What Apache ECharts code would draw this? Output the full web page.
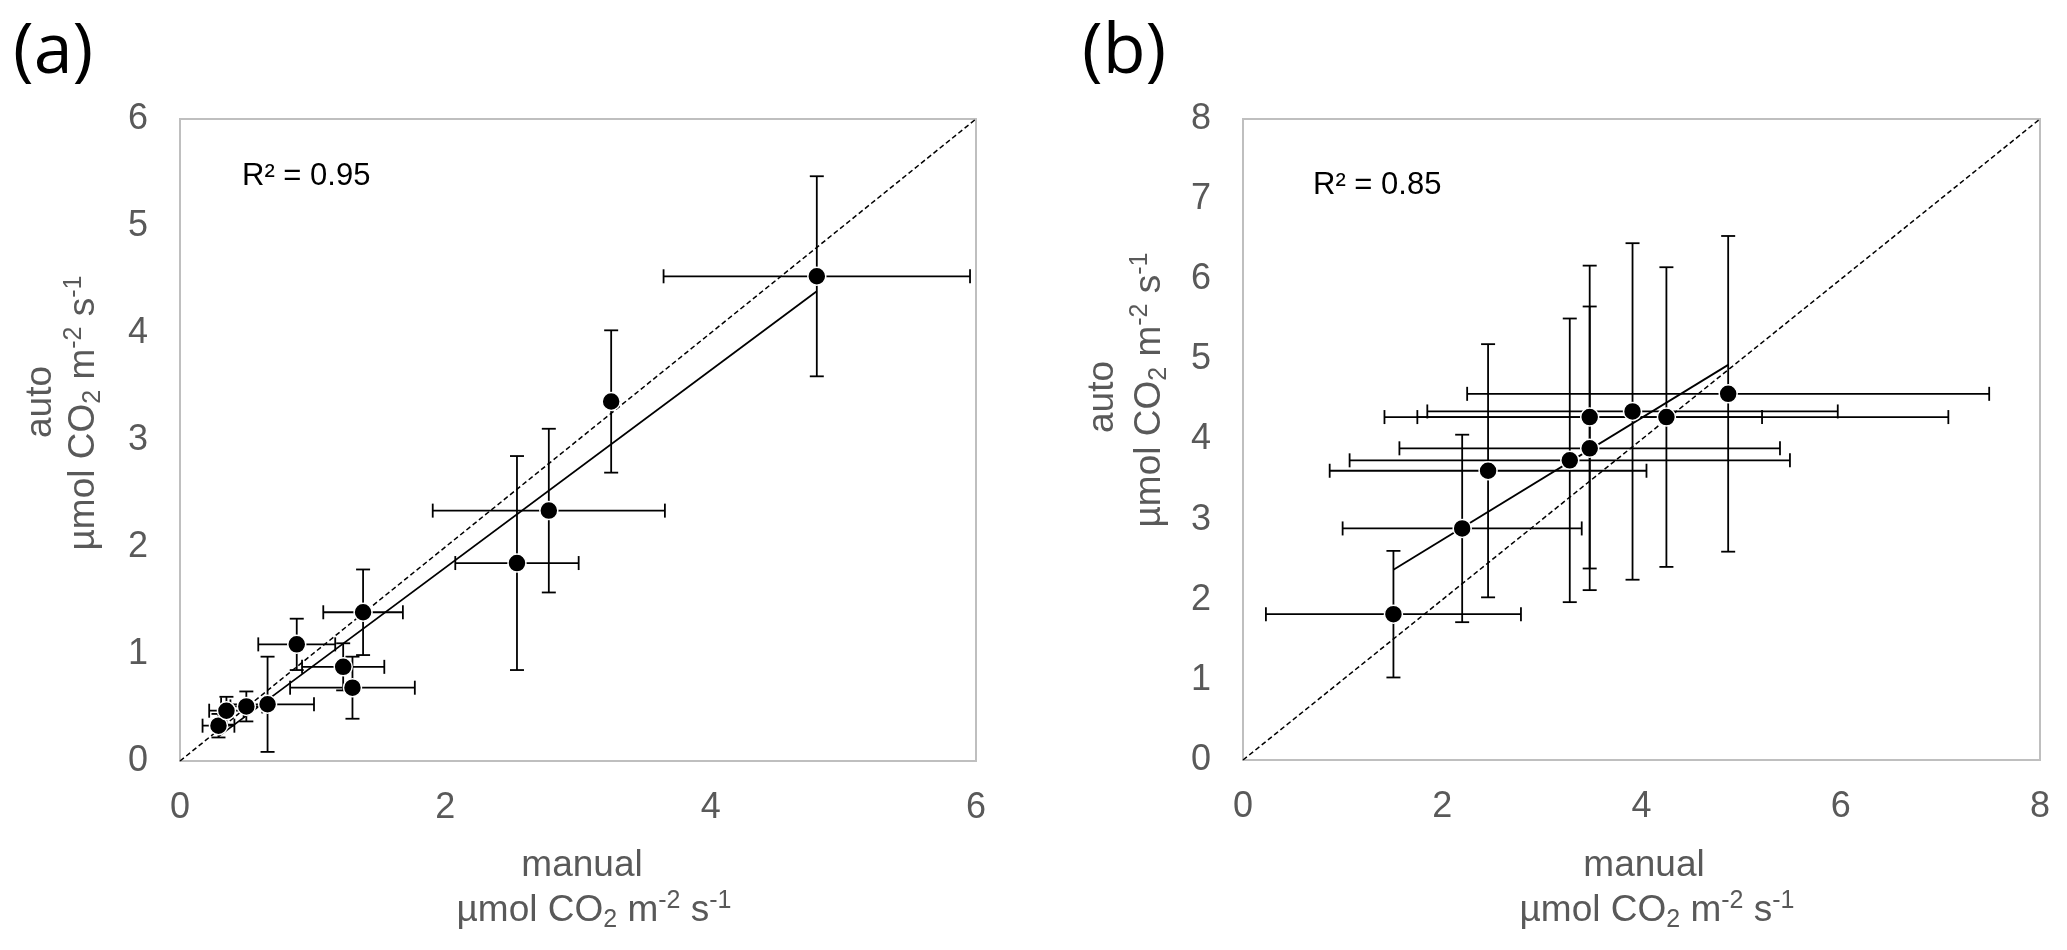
<!DOCTYPE html>
<html>
<head>
<meta charset="utf-8">
<script src="https://cdn.jsdelivr.net/npm/echarts@6/dist/echarts.min.js"></script>
<style>
html,body{margin:0;padding:0;background:#fff;}
#chart{width:2067px;height:950px;}
</style>
</head>
<body>
<div id="chart"></div>
<script>
// ---- Panel (a) data ----
const aManual    = [0.29, 0.35, 0.50, 0.66, 0.88, 1.23, 1.30, 1.38, 2.54, 2.78, 3.25, 4.80];
const aAuto      = [0.33, 0.47, 0.51, 0.53, 1.09, 0.88, 0.685, 1.39, 1.85, 2.34, 3.36, 4.53];
const aManualErr = [0.12, 0.13, 0.12, 0.35, 0.29, 0.31, 0.47, 0.30, 0.465, 0.875, 0, 1.155];
const aAutoErr   = [0.11, 0.13, 0.14, 0.445, 0.24, 0.22, 0.29, 0.40, 1.0, 0.765, 0.665, 0.935];
const aR2 = 'R² = 0.95';
const aXTicks = [0, 6, 2];   // min, max, interval
const aYTicks = [0, 6, 1];

// ---- Panel (b) data ----
const bManual    = [1.51, 2.20, 2.46, 3.28, 3.48, 3.48, 3.91, 4.25, 4.87];
const bAuto      = [1.82, 2.89, 3.61, 3.74, 3.89, 4.28, 4.35, 4.28, 4.57];
const bManualErr = [1.28, 1.20, 1.59, 2.21, 1.91, 1.73, 2.06, 2.83, 2.62];
const bAutoErr   = [0.79, 1.17, 1.58, 1.77, 1.77, 1.89, 2.10, 1.87, 1.97];
const bR2 = 'R² = 0.85';
const bXTicks = [0, 8, 2];
const bYTicks = [0, 8, 1];

const FONT = "'Liberation Sans', Arial, sans-serif";
const GRAY = '#595959';

function linreg(xs, ys) {
  const n = xs.length;
  const mx = xs.reduce((s, v) => s + v, 0) / n;
  const my = ys.reduce((s, v) => s + v, 0) / n;
  let sxy = 0, sxx = 0;
  for (let i = 0; i < n; i++) { sxy += (xs[i] - mx) * (ys[i] - my); sxx += (xs[i] - mx) * (xs[i] - mx); }
  const b = sxy / sxx;
  const a = my - b * mx;
  const x0 = Math.min(...xs), x1 = Math.max(...xs);
  return [[x0, a + b * x0], [x1, a + b * x1]];
}

function errData(xs, ys, xe, ye) {
  return xs.map((x, i) => [x, ys[i], xe[i], ye[i]]);
}

function renderErr(params, api) {
  const x = api.value(0), y = api.value(1), xe = api.value(2), ye = api.value(3);
  const cap = 7;
  const st = { stroke: '#000', lineWidth: 1.8 };
  const children = [];
  if (xe > 0) {
    const l = api.coord([x - xe, y]), r = api.coord([x + xe, y]);
    children.push({ type: 'line', shape: { x1: l[0], y1: l[1], x2: r[0], y2: r[1] }, style: st });
    children.push({ type: 'line', shape: { x1: l[0], y1: l[1] - cap, x2: l[0], y2: l[1] + cap }, style: st });
    children.push({ type: 'line', shape: { x1: r[0], y1: r[1] - cap, x2: r[0], y2: r[1] + cap }, style: st });
  }
  if (ye > 0) {
    const t = api.coord([x, y + ye]), b = api.coord([x, y - ye]);
    children.push({ type: 'line', shape: { x1: t[0], y1: t[1], x2: b[0], y2: b[1] }, style: st });
    children.push({ type: 'line', shape: { x1: t[0] - cap, y1: t[1], x2: t[0] + cap, y2: t[1] }, style: st });
    children.push({ type: 'line', shape: { x1: b[0] - cap, y1: b[1], x2: b[0] + cap, y2: b[1] }, style: st });
  }
  return { type: 'group', children: children };
}

function axisX(idx, t) {
  return {
    type: 'value', gridIndex: idx, min: t[0], max: t[1], interval: t[2],
    axisLine: { show: false }, axisTick: { show: false }, splitLine: { show: false },
    axisLabel: { color: GRAY, fontSize: 36, fontFamily: FONT, margin: 29 }
  };
}
function axisY(idx, t) {
  return {
    type: 'value', gridIndex: idx, min: t[0], max: t[1], interval: t[2],
    axisLine: { show: false }, axisTick: { show: false }, splitLine: { show: false },
    axisLabel: { color: GRAY, fontSize: 36, fontFamily: FONT, margin: 32 }
  };
}

function panelSeries(idx, xs, ys, xe, ye, xt) {
  return [
    { type: 'line', xAxisIndex: idx, yAxisIndex: idx, data: [[xt[0], xt[0]], [xt[1], xt[1]]],
      symbol: 'none', silent: true, lineStyle: { color: '#000', width: 1.5, type: [5, 3] }, z: 2 },
    { type: 'line', xAxisIndex: idx, yAxisIndex: idx, data: linreg(xs, ys),
      symbol: 'none', silent: true, lineStyle: { color: '#000', width: 1.8 }, z: 3 },
    { type: 'custom', xAxisIndex: idx, yAxisIndex: idx, data: errData(xs, ys, xe, ye),
      renderItem: renderErr, silent: true, z: 4 },
    { type: 'scatter', xAxisIndex: idx, yAxisIndex: idx, data: xs.map((x, i) => [x, ys[i]]),
      symbolSize: 18, itemStyle: { color: '#000', borderColor: '#fff', borderWidth: 1.5, opacity: 1 }, z: 5 }
  ];
}

const rich = {
  m:   { fontSize: 37, fontFamily: FONT, color: GRAY, lineHeight: 44 },
  sub: { fontSize: 25, fontFamily: FONT, color: GRAY, lineHeight: 24, verticalAlign: 'bottom' },
  sup: { fontSize: 25, fontFamily: FONT, color: GRAY, lineHeight: 24, verticalAlign: 'top' }
};
const unitText = '{m|µmol CO}{sub|2}{m| m}{sup|-2}{m| s}{sup|-1}';

function txt(x, y, text, opts) {
  return {
    type: 'text', x: x, y: y, silent: true,
    style: Object.assign({ text: text, fill: GRAY, font: '37px ' + FONT, align: 'center', verticalAlign: 'middle' }, opts || {})
  };
}

const chart = echarts.init(document.getElementById('chart'), null, { renderer: 'canvas' });
chart.setOption({
  animation: false,
  backgroundColor: '#fff',
  grid: [
    { left: 180, top: 119, width: 796, height: 642, show: true, borderColor: '#BFBFBF', borderWidth: 2, backgroundColor: 'transparent' },
    { left: 1243, top: 119, width: 797, height: 641, show: true, borderColor: '#BFBFBF', borderWidth: 2, backgroundColor: 'transparent' }
  ],
  xAxis: [axisX(0, aXTicks), axisX(1, bXTicks)],
  yAxis: [axisY(0, aYTicks), axisY(1, bYTicks)],
  series: [].concat(
    panelSeries(0, aManual, aAuto, aManualErr, aAutoErr, aXTicks),
    panelSeries(1, bManual, bAuto, bManualErr, bAutoErr, bXTicks)
  ),
  graphic: [
    txt(13, 53, '(a)', { fill: '#000', font: "70px 'Open Sans', sans-serif", align: 'left' }),
    txt(1082, 53, '(b)', { fill: '#000', font: "70px 'Open Sans', sans-serif", align: 'left' }),
    txt(242, 176, aR2, { fill: '#000', font: '31px ' + FONT, align: 'left' }),
    txt(1313, 185, bR2, { fill: '#000', font: '31px ' + FONT, align: 'left' }),
    // x titles
    txt(582, 866, 'manual'),
    txt(594, 911, unitText, { rich: rich }),
    txt(1644, 866, 'manual'),
    txt(1657, 911, unitText, { rich: rich }),
    // y titles (rotated)
    Object.assign(txt(41, 402, 'auto'), { rotation: Math.PI / 2 }),
    Object.assign(txt(84, 413, unitText, { rich: rich }), { rotation: Math.PI / 2 }),
    Object.assign(txt(1103, 397, 'auto'), { rotation: Math.PI / 2 }),
    Object.assign(txt(1150, 390, unitText, { rich: rich }), { rotation: Math.PI / 2 })
  ]
});
</script>
</body>
</html>
